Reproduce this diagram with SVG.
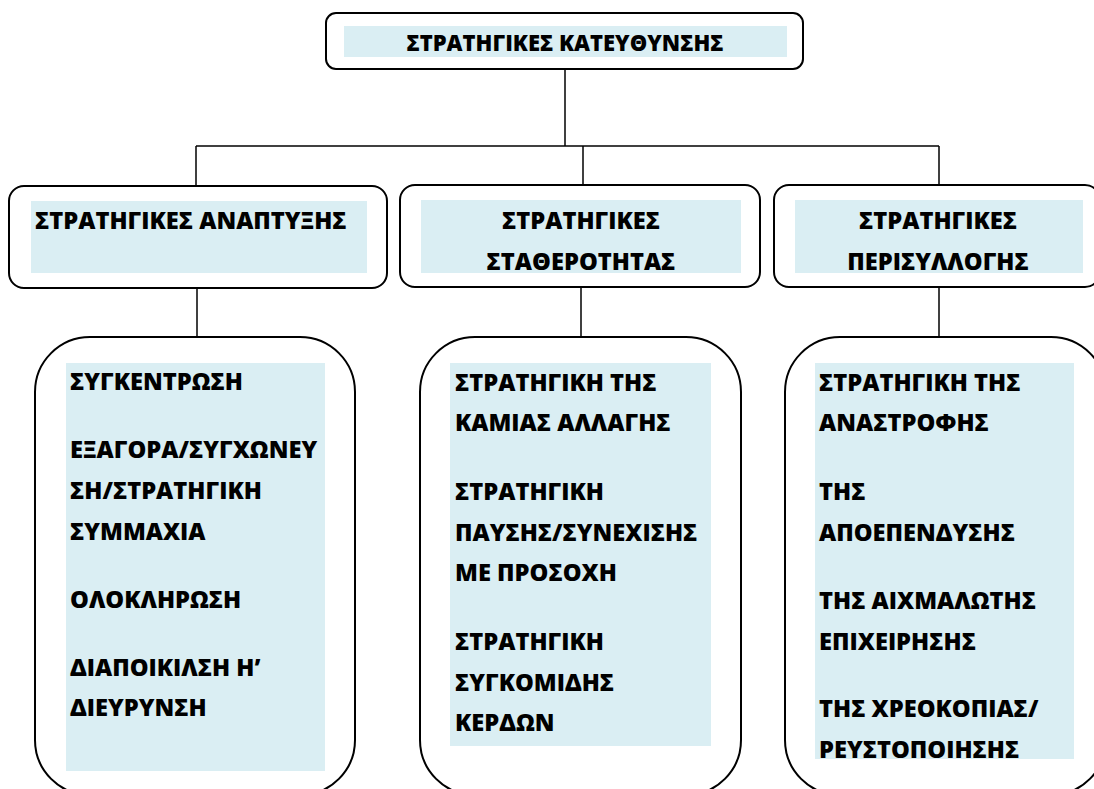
<svg xmlns="http://www.w3.org/2000/svg" width="1094" height="789" viewBox="0 0 1094 789">
<style>
.box{fill:#ffffff;stroke:#000000;stroke-width:2}
.shade{fill:#DAEEF3;stroke:none}
.t{font-family:"Open Sans","Liberation Sans",sans-serif;font-weight:800;font-size:23.7px;fill:#000000}
.top{font-size:22px}
.c{text-anchor:middle}
.conn{fill:none;stroke:#000000;stroke-width:1.5}
</style>
<rect x="0" y="0" width="1094" height="789" fill="#ffffff"/>
<g id="connectors">
<line class="conn" x1="565" y1="69" x2="565" y2="146"/>
<line class="conn" x1="196" y1="146" x2="939" y2="146"/>
<line class="conn" x1="196" y1="146" x2="196" y2="186"/>
<line class="conn" x1="583" y1="146" x2="583" y2="185"/>
<line class="conn" x1="939" y1="146" x2="939" y2="185"/>
<line class="conn" x1="197" y1="288" x2="197" y2="337"/>
<line class="conn" x1="581" y1="287" x2="581" y2="337"/>
<line class="conn" x1="939" y1="287" x2="939" y2="337"/>
</g>
<g id="root">
<rect class="box" x="326" y="13" width="477" height="56" rx="10"/>
<rect class="shade" x="344" y="26" width="443" height="31"/>
<text class="t top c" x="565" y="51">ΣΤΡΑΤΗΓΙΚΕΣ ΚΑΤΕΥΘΥΝΣΗΣ</text>
</g>
<g id="growth">
<rect class="box" x="9" y="186" width="378" height="102" rx="15"/>
<rect class="shade" x="31" y="201" width="336" height="72"/>
<text class="t" x="35" y="229">ΣΤΡΑΤΗΓΙΚΕΣ ΑΝΑΠΤΥΞΗΣ</text>
</g>
<g id="stability">
<rect class="box" x="400" y="185" width="360" height="102" rx="15"/>
<rect class="shade" x="421" y="200" width="320" height="73"/>
<text class="t c" x="581" y="229">ΣΤΡΑΤΗΓΙΚΕΣ</text>
<text class="t c" x="581" y="270">ΣΤΑΘΕΡΟΤΗΤΑΣ</text>
</g>
<g id="retrenchment">
<rect class="box" x="774" y="185" width="326" height="102" rx="15"/>
<rect class="shade" x="795" y="200" width="288" height="73"/>
<text class="t c" x="938" y="229">ΣΤΡΑΤΗΓΙΚΕΣ</text>
<text class="t c" x="938" y="270">ΠΕΡΙΣΥΛΛΟΓΗΣ</text>
</g>
<g id="growth-list">
<rect class="box" x="35" y="337" width="320" height="458" rx="55"/>
<rect class="shade" x="66" y="363" width="259" height="408"/>
<text class="t" x="70" y="390">ΣΥΓΚΕΝΤΡΩΣΗ</text>
<text class="t" x="70" y="458">ΕΞΑΓΟΡΑ/ΣΥΓΧΩΝΕΥ</text>
<text class="t" x="70" y="499">ΣΗ/ΣΤΡΑΤΗΓΙΚΗ</text>
<text class="t" x="70" y="540">ΣΥΜΜΑΧΙΑ</text>
<text class="t" x="70" y="608">ΟΛΟΚΛΗΡΩΣΗ</text>
<text class="t" x="70" y="676">ΔΙΑΠΟΙΚΙΛΣΗ Η’</text>
<text class="t" x="70" y="716">ΔΙΕΥΡΥΝΣΗ</text>
</g>
<g id="stability-list">
<rect class="box" x="420" y="337" width="321" height="458" rx="55"/>
<rect class="shade" x="450" y="363" width="261" height="383"/>
<text class="t" x="455" y="391">ΣΤΡΑΤΗΓΙΚΗ ΤΗΣ</text>
<text class="t" x="455" y="431">ΚΑΜΙΑΣ ΑΛΛΑΓΗΣ</text>
<text class="t" x="455" y="500">ΣΤΡΑΤΗΓΙΚΗ</text>
<text class="t" x="455" y="541">ΠΑΥΣΗΣ/ΣΥΝΕΧΙΣΗΣ</text>
<text class="t" x="455" y="581">ΜΕ ΠΡΟΣΟΧΗ</text>
<text class="t" x="455" y="650">ΣΤΡΑΤΗΓΙΚΗ</text>
<text class="t" x="455" y="691">ΣΥΓΚΟΜΙΔΗΣ</text>
<text class="t" x="455" y="731">ΚΕΡΔΩΝ</text>
</g>
<g id="retrenchment-list">
<rect class="box" x="785" y="337" width="321" height="458" rx="55"/>
<rect class="shade" x="815" y="363" width="259" height="396"/>
<text class="t" x="819" y="391">ΣΤΡΑΤΗΓΙΚΗ ΤΗΣ</text>
<text class="t" x="819" y="431">ΑΝΑΣΤΡΟΦΗΣ</text>
<text class="t" x="819" y="500">ΤΗΣ</text>
<text class="t" x="819" y="541">ΑΠΟΕΠΕΝΔΥΣΗΣ</text>
<text class="t" x="819" y="609">ΤΗΣ ΑΙΧΜΑΛΩΤΗΣ</text>
<text class="t" x="819" y="650">ΕΠΙΧΕΙΡΗΣΗΣ</text>
<text class="t" x="819" y="717">ΤΗΣ ΧΡΕΟΚΟΠΙΑΣ/</text>
<text class="t" x="819" y="758">ΡΕΥΣΤΟΠΟΙΗΣΗΣ</text>
</g>
</svg>
